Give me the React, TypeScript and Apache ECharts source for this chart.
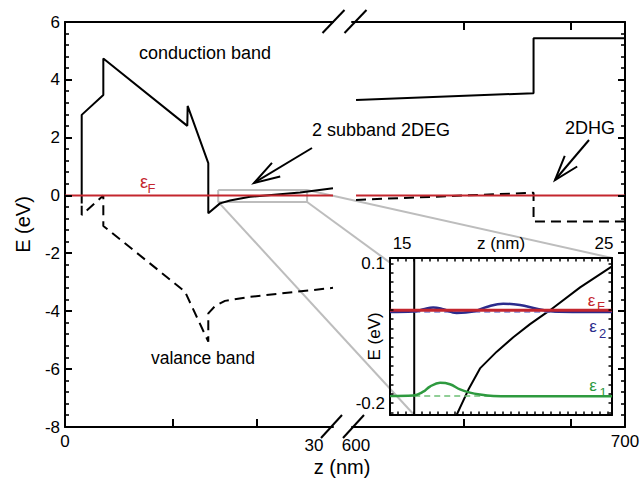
import React, { useEffect, useRef } from "react";
import * as echarts from "echarts";

const FONT = "'Liberation Sans', Arial, Helvetica, sans-serif";
const RED = "#c4262e";
const BLUE = "#2b2b8c";
const GREEN = "#2e9a3f";
const GRAY = "#bdbdbd";
const TICK = "#000";

// ---- main panel, left segment (z = 0–30 nm) ----
const cbLeftZ = [1.87, 1.87, 4.29, 4.29, 13.69, 13.73, 16.04, 16.04, 17.35, 18.47, 20.71, 26.31, 30];
const cbLeftE = [-0.27, 2.79, 3.48, 4.74, 2.41, 3.1, 1.12, -0.61, -0.27, -0.17, -0.04, 0.11, 0.25];
const vbLeftZ = [1.87, 1.87, 4.29, 4.29, 13.43, 14.74, 16.04, 16.04, 16.79, 17.91, 20.71, 30];
const vbLeftE = [-0.35, -0.67, 0.0, -1.05, -3.32, -4.19, -5.05, -4.07, -3.82, -3.64, -3.5, -3.19];
const fermiLeftZ = [0, 30];
const leftTickZ = [12.1, 21.5];
const leftLabelZ = [0, 30];

// ---- main panel, right segment (z = 600–700 nm) ----
const cbRightZ = [600, 666, 666, 700];
const cbRightE = [3.3, 3.54, 5.44, 5.44];
const vbRightZ = [600, 666, 666, 700];
const vbRightE = [-0.15, 0.1, -0.9, -0.9];
const fermiRightZ = [600, 700];
const rightTickZ = [640, 680];
const rightLabelZ = [600, 700];

// energy axis of the main panel
const mainEMajor = [-8, -6, -4, -2, 0, 2, 4, 6];
const mainEMinorSplit = 5;

// zoom box drawn on the main panel
const zoomBoxZ = [17.15, 27.1];
const zoomBoxE = [-0.22, 0.19];

// ---- inset ----
const interfaceZ = 15.6;
const insetCbZ = [17.7, 18.28, 18.86, 19.69, 20.51, 21.34, 22.33, 23.82, 25.4];
const insetCbE = [-0.225, -0.171, -0.125, -0.089, -0.058, -0.03, 0.0, 0.049, 0.094];
const eps2Z = [14.4, 15.55, 16.05, 16.54, 17.04, 17.7, 18.53, 19.19, 20.01, 20.84, 21.67, 22.49, 23.81, 25.4];
const eps2E = [-0.004, -0.003, 0.002, 0.006, 0.002, -0.006, -0.003, 0.007, 0.014, 0.011, 0.003, -0.003, -0.004, -0.004];
const eps1Z = [14.4, 15.55, 16.05, 16.38, 16.88, 17.37, 17.87, 18.36, 18.86, 19.52, 20.51, 25.4];
const eps1E = [-0.184, -0.183, -0.175, -0.164, -0.156, -0.159, -0.17, -0.177, -0.181, -0.184, -0.185, -0.185];
const eps2Level = -0.004;
const eps1Level = -0.184;
const insetFermiZ = [14.4, 25.4];
const insetZRange = [14.4, 25.4];
const insetERange = [-0.225, 0.112];
const insetZTickStep = 0.4;
const insetLabelZ = [15, 25];
const insetLabelE = [-0.2, 0.1];
const insetTickE = [-0.22, -0.2, -0.18, -0.16, -0.14, -0.12, -0.1, -0.08, -0.06, -0.04, -0.02, 0, 0.02, 0.04, 0.06, 0.08, 0.1];

const pairs = (xs: number[], ys: number[]) => xs.map((x, i) => [x, ys[i]]);
const flat = (xs: number[], y: number) => xs.map((x) => [x, y]);

const lineSeries = (name: string, data: number[][], xi: number, yi: number, color: string, width: number, extra: any = {}) => ({
  name,
  type: "line",
  xAxisIndex: xi,
  yAxisIndex: yi,
  data,
  symbol: "none",
  showSymbol: false,
  silent: true,
  lineStyle: { color, width, ...(extra.lineStyle || {}) },
  smooth: extra.smooth || false,
  z: extra.z || 2,
});

const black = "#000";
const axisLineStyle = { show: true, onZero: false, lineStyle: { color: black, width: 2 } };
const noTick = { show: false };

export default function App() {
  const ref = useRef<HTMLDivElement>(null);
  useEffect(() => {
    const chart = echarts.init(ref.current!, null, { renderer: "svg" });
    const lbl = { color: black, fontSize: 17, fontFamily: FONT };
    const option: any = {
      animation: false,
      backgroundColor: "#fff",
      textStyle: { fontFamily: FONT },
      grid: [
        { left: 65, top: 22, width: 268, height: 405, containLabel: false, outerBoundsMode: "none" },
        { left: 352, top: 22, width: 273, height: 405, containLabel: false, outerBoundsMode: "none" },
        { left: 390, top: 258, width: 222, height: 157, containLabel: false, outerBoundsMode: "none" },
      ],
      xAxis: [
        {
          type: "value", gridIndex: 0, min: 0, max: 30, position: "bottom",
          axisLine: axisLineStyle, axisTick: noTick,
          axisLabel: {
            ...lbl, margin: 6, customValues: leftLabelZ, showMinLabel: true, showMaxLabel: true,
            formatter: (v: number) => (v === 30 ? "{p|30}" : String(v)),
            rich: { p: { ...lbl, padding: [4, 38, 0, 0] } },
          },
          splitLine: { show: false },
        },
        {
          type: "value", gridIndex: 0, min: 0, max: 30, position: "top",
          axisLine: axisLineStyle, axisTick: noTick, axisLabel: { show: false }, splitLine: { show: false },
        },
        {
          type: "value", gridIndex: 1, min: 598.5, max: 700, position: "bottom",
          axisLine: axisLineStyle, axisTick: noTick,
          axisLabel: {
            ...lbl, margin: 6, customValues: rightLabelZ, showMinLabel: true, showMaxLabel: true,
            formatter: (v: number) => (v === 600 ? "{p|600}" : String(v)),
            rich: { p: { ...lbl, padding: [4, 0, 0, 0] } },
          },
          splitLine: { show: false },
        },
        {
          type: "value", gridIndex: 1, min: 598.5, max: 700, position: "top",
          axisLine: axisLineStyle, axisTick: noTick, axisLabel: { show: false }, splitLine: { show: false },
        },
        {
          type: "value", gridIndex: 2, min: insetZRange[0], max: insetZRange[1], position: "bottom",
          axisLine: axisLineStyle, axisTick: noTick, axisLabel: { show: false }, splitLine: { show: false },
        },
        {
          type: "value", gridIndex: 2, min: insetZRange[0], max: insetZRange[1], position: "top",
          axisLine: axisLineStyle, axisTick: noTick,
          axisLabel: { ...lbl, margin: 6, customValues: insetLabelZ, showMinLabel: true, showMaxLabel: true },
          name: "z (nm)", nameLocation: "middle", nameGap: 6, nameMoveOverlap: false,
          nameTextStyle: { color: black, fontSize: 17, fontFamily: FONT, verticalAlign: "bottom" },
          splitLine: { show: false },
        },
      ],
      yAxis: [
        {
          type: "value", gridIndex: 0, min: -8, max: 6, interval: 2, position: "left",
          axisLine: axisLineStyle, axisTick: noTick,
          axisLabel: { ...lbl, margin: 5 },
          name: "E (eV)", nameLocation: "middle", nameGap: 32, nameMoveOverlap: false,
          nameTextStyle: { color: black, fontSize: 20, fontFamily: FONT },
          splitLine: { show: false },
        },
        {
          type: "value", gridIndex: 1, min: -8, max: 6, interval: 2, position: "right",
          axisLine: axisLineStyle, axisTick: noTick, axisLabel: { show: false }, splitLine: { show: false },
        },
        {
          type: "value", gridIndex: 2, min: insetERange[0], max: insetERange[1], position: "left",
          axisLine: axisLineStyle, axisTick: noTick,
          axisLabel: { ...lbl, margin: 5, customValues: insetLabelE, showMinLabel: true, showMaxLabel: true },
          name: "E (eV)", nameLocation: "middle", nameGap: 7, nameMoveOverlap: false,
          nameTextStyle: { color: black, fontSize: 17, fontFamily: FONT },
          splitLine: { show: false },
        },
        {
          type: "value", gridIndex: 2, min: insetERange[0], max: insetERange[1], position: "right",
          axisLine: axisLineStyle, axisTick: noTick, axisLabel: { show: false }, splitLine: { show: false },
        },
      ],
      series: [
        lineSeries("cbLeft", pairs(cbLeftZ, cbLeftE), 0, 0, black, 2),
        lineSeries("vbLeft", pairs(vbLeftZ, vbLeftE), 0, 0, black, 2, { lineStyle: { type: [10, 6] } }),
        lineSeries("fermiLeft", flat(fermiLeftZ, 0), 0, 0, RED, 2),
        lineSeries(
          "zoomBox",
          [
            [zoomBoxZ[0], zoomBoxE[1]], [zoomBoxZ[1], zoomBoxE[1]], [zoomBoxZ[1], zoomBoxE[0]],
            [zoomBoxZ[0], zoomBoxE[0]], [zoomBoxZ[0], zoomBoxE[1]],
          ],
          0, 0, GRAY, 2, { z: 1 }
        ),
        lineSeries("cbRight", pairs(cbRightZ, cbRightE), 2, 1, black, 2),
        lineSeries("vbRight", pairs(vbRightZ, vbRightE), 2, 1, black, 2, { lineStyle: { type: [10, 6] } }),
        lineSeries("fermiRight", flat(fermiRightZ, 0), 2, 1, RED, 2),
        lineSeries("interface", [[interfaceZ, insetERange[0]], [interfaceZ, insetERange[1]]], 4, 2, black, 2),
        lineSeries("insetCb", pairs(insetCbZ, insetCbE), 4, 2, black, 2),
        lineSeries("eps2Level", flat([interfaceZ, insetZRange[1]], eps2Level), 4, 2, "#7c7fd0", 1.5, { lineStyle: { type: [6, 4] } }),
        lineSeries("eps1Level", flat([interfaceZ, insetZRange[1]], eps1Level), 4, 2, "#6cbf74", 1.5, { lineStyle: { type: [6, 4] } }),
        lineSeries("eps2", pairs(eps2Z, eps2E), 4, 2, BLUE, 2.5, { smooth: 0.4 }),
        lineSeries("fermiInset", flat(insetFermiZ, 0), 4, 2, RED, 3),
        lineSeries("eps1", pairs(eps1Z, eps1E), 4, 2, GREEN, 2.5, { smooth: 0.4 }),
      ],
    };
    chart.setOption(option);

    const px = (si: number, pt: number[]) => chart.convertToPixel({ seriesIndex: si }, pt) as number[];

    const seg = (p: number[], q: number[], stroke: string, w: number, z = 0) => ({
      type: "line", z, silent: true,
      shape: { x1: p[0], y1: p[1], x2: q[0], y2: q[1] },
      style: { stroke, lineWidth: w },
    });

    // ticks, placed through the axes' own scales
    const ticks: any[] = [];
    const xTicks = (si: number, zs: number[], eEdge: number, dir: number, len: number, w: number) =>
      zs.forEach((z) => {
        const p = px(si, [z, eEdge]);
        const x = Math.round(p[0]);
        ticks.push(seg([x, p[1]], [x, p[1] + dir * len], TICK, w, 50));
      });
    const yTicks = (si: number, es: number[], zEdge: number, dir: number, len: number, w: number) =>
      es.forEach((e) => {
        const p = px(si, [zEdge, e]);
        const y = Math.round(p[1]);
        ticks.push(seg([p[0], y], [p[0] + dir * len, y], TICK, w, 50));
      });
    const mainEMinor: number[] = [];
    for (let i = 0; i < mainEMajor.length - 1; i++) {
      const step = (mainEMajor[i + 1] - mainEMajor[i]) / mainEMinorSplit;
      for (let k = 1; k < mainEMinorSplit; k++) mainEMinor.push(mainEMajor[i] + k * step);
    }
    yTicks(0, mainEMajor, 0, 1, 7, 2);
    yTicks(0, mainEMinor, 0, 1, 4, 1.6);
    yTicks(4, mainEMajor, 700, -1, 7, 2);
    yTicks(4, mainEMinor, 700, -1, 4, 1.6);
    xTicks(0, leftTickZ, -8, -1, 8, 2);
    xTicks(4, rightTickZ, -8, -1, 8, 2);
    xTicks(4, rightTickZ, 6, 1, 8, 2);
    const insetZTicks: number[] = [];
    for (let z = insetZRange[0] + insetZTickStep; z < insetZRange[1] - 1e-6; z += insetZTickStep) insetZTicks.push(z);
    xTicks(7, insetZTicks, insetERange[0], -1, 3.5, 1.5);
    xTicks(7, insetZTicks, insetERange[1], 1, 3.5, 1.5);
    yTicks(7, insetTickE, insetZRange[0], 1, 3.5, 1.5);
    yTicks(7, insetTickE, insetZRange[1], -1, 3.5, 1.5);

    // connector lines from the zoom box to the inset
    const a1 = px(3, [zoomBoxZ[0], zoomBoxE[0]]);
    const b1 = px(7, [interfaceZ, insetERange[0]]);
    const a2 = px(3, [zoomBoxZ[1], zoomBoxE[0]]);
    const b2 = px(7, [insetZRange[0], 0.102]);
    const a3 = px(3, [zoomBoxZ[1], zoomBoxE[1]]);
    const b3 = px(7, [insetZRange[1], insetERange[1]]);

    const arrow = (tail: number[], tip: number[], len: number, ang: number) => {
      const dx = tail[0] - tip[0], dy = tail[1] - tip[1];
      const L = Math.hypot(dx, dy);
      const ux = dx / L, uy = dy / L;
      const c = Math.cos(ang), s = Math.sin(ang);
      const h1 = [tip[0] + len * (ux * c - uy * s), tip[1] + len * (ux * s + uy * c)];
      const h2 = [tip[0] + len * (ux * c + uy * s), tip[1] + len * (-ux * s + uy * c)];
      return [
        seg(tail, tip, black, 2, 10),
        { type: "polyline", z: 10, silent: true, shape: { points: [h1, tip, h2] }, style: { stroke: black, lineWidth: 2, fill: null } },
      ];
    };
    const txt = (text: string, x: number, y: number, size: number, color = black, align = "center") => ({
      type: "text", z: 10, silent: true, x, y,
      style: {
        text, fill: color, fontSize: size, fontFamily: FONT,
        align, verticalAlign: "middle", textAlign: align, textVerticalAlign: "middle",
      },
    });

    chart.setOption({
      graphic: {
        elements: [
          seg(a1, b1, GRAY, 2, 0),
          seg(a2, b2, GRAY, 2, 0),
          seg(a3, b3, GRAY, 2, 0),
          ...ticks,
          seg([322.5, 33], [344.5, 10], black, 2, 10),
          seg([344.5, 33], [366.5, 10], black, 2, 10),
          seg([321, 438], [342, 415], black, 2, 10),
          seg([343, 438], [364, 415], black, 2, 10),
          ...arrow([312, 148], [254, 183], 27, 0.3),
          ...arrow([589, 140], [555, 180], 26, 0.32),
          txt("conduction band", 205, 53, 18),
          txt("valance band", 203, 358, 17.5),
          txt("2 subband 2DEG", 381, 130, 18),
          txt("2DHG", 590, 128, 18),
          txt("z (nm)", 342, 467, 20),
          txt("ε", 144, 182, 18, RED),
          txt("F", 151.5, 188, 13, RED),
          txt("ε", 591.5, 300.5, 17, RED),
          txt("F", 601, 306, 13, RED),
          txt("ε", 593, 326.5, 17, BLUE),
          txt("2", 602.5, 333, 13, BLUE),
          txt("ε", 593, 385, 17, GREEN),
          txt("1", 603, 392, 13, GREEN),
        ],
      },
    });
    return () => chart.dispose();
  }, []);
  return (
    <div
      ref={ref}
      style={{ position: "fixed", left: 0, top: 0, width: 641, height: 483, background: "#fff" }}
    />
  );
}
